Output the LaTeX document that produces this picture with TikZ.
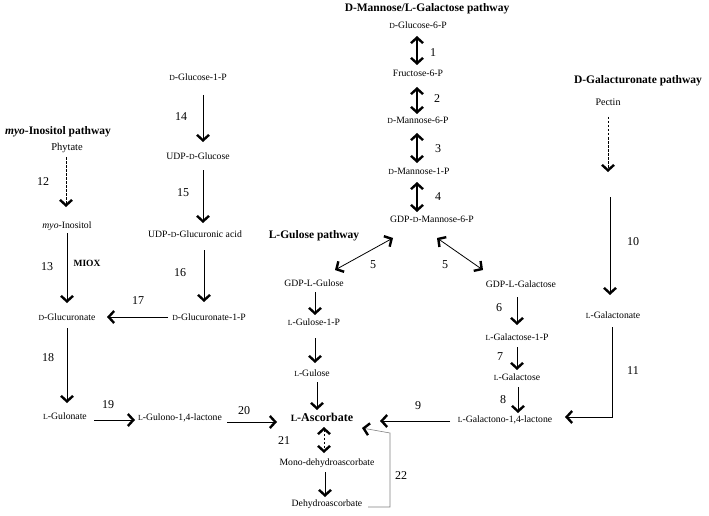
\documentclass[tikz,border=0pt]{standalone}
\usepackage{fontspec}
\usepackage{graphicx}
\setmainfont{Liberation Serif}
\usetikzlibrary{arrows.meta,calc}
\newcommand\smc[1]{\scalebox{0.8}{#1}}
\begin{document}
\begin{tikzpicture}[x=1pt,y=-1pt,
  cmp/.style={font=\fontsize{9.7}{10}\selectfont, inner sep=0pt},
  ttl/.style={font=\fontsize{11.5}{12}\selectfont\bfseries, inner sep=0pt},
  num/.style={font=\fontsize{12}{13}\selectfont, inner sep=0pt},
  barb/.tip={Straight Barb[length=5.5pt,width=12pt,line width=2.4pt]},
  bbarb/.tip={Straight Barb[length=5.5pt,width=12pt,line width=2.4pt,color=black]},
  arr/.style={-barb, line width=0.9pt},
  darr/.style={barb-barb, line width=1.1pt},
  dsh/.style={dash pattern=on 2.5pt off 1.5pt}
]
\useasboundingbox (0,0) rectangle (709,516);

% titles
\node[ttl] (tM) at (427,9) {D-Mannose/L-Galactose pathway};
\node[ttl] (tG) at (314,236) {L-Gulose pathway};
\node[ttl] (tI) at (58,132) {\textit{myo}-Inositol pathway};
\node[ttl] (tD) at (638,81) {D-Galacturonate pathway};

% compounds
\node[cmp] (g6p) at (418,25) {\smc{D}-Glucose-6-P};
\node[cmp] (f6p) at (418,73) {Fructose-6-P};
\node[cmp] (m6p) at (418,120) {\smc{D}-Mannose-6-P};
\node[cmp] (m1p) at (419,171) {\smc{D}-Mannose-1-P};
\node[cmp] (gdpm) at (432,219) {GDP-\smc{D}-Mannose-6-P};
\node[cmp] (gdpgul) at (314,283) {GDP-L-Gulose};
\node[cmp] (gul1p) at (314,322) {\smc{L}-Gulose-1-P};
\node[cmp] (gul) at (312,373) {\smc{L}-Gulose};
\node[inner sep=0pt, font=\fontsize{12}{13}\selectfont\bfseries] (asc) at (322,417) {\smc{L}-Ascorbate};
\node[cmp] (mda) at (327,463) {Mono-dehydroascorbate};
\node[cmp] (dha) at (327,504) {Dehydroascorbate};
\node[cmp] (gdpgal) at (521,284) {GDP-L-Galactose};
\node[cmp] (gal1p) at (517,337) {\smc{L}-Galactose-1-P};
\node[cmp] (gal) at (517,377) {\smc{L}-Galactose};
\node[cmp] (galL) at (505,420) {\smc{L}-Galactono-1,4-lactone};
\node[inner sep=0pt, font=\fontsize{10}{11}\selectfont] (pectin) at (608,102) {Pectin};
\node[cmp] (galact) at (613,315) {\smc{L}-Galactonate};
\node[inner sep=0pt, font=\fontsize{10.5}{11}\selectfont] (phyt) at (67,148) {Phytate};
\node[cmp] (myo) at (67,226) {\textit{myo}-Inositol};
\node[cmp] (glcA) at (67,317) {\smc{D}-Glucuronate};
\node[cmp] (gulon) at (65,416) {\smc{L}-Gulonate};
\node[cmp] (gulL) at (180,418) {\smc{L}-Gulono-1,4-lactone};
\node[cmp] (g1p) at (198,77) {\smc{D}-Glucose-1-P};
\node[cmp] (udpg) at (198,156) {UDP-\smc{D}-Glucose};
\node[cmp] (udpga) at (195,234) {UDP-\smc{D}-Glucuronic acid};
\node[cmp] (glcA1p) at (209,317) {\smc{D}-Glucuronate-1-P};
\node[inner sep=0pt, font=\fontsize{9.5}{10}\selectfont\bfseries] (miox) at (87,263) {MIOX};

% numbers
\node[num] (n1) at (433,53) {1};
\node[num] (n2) at (437,99) {2};
\node[num] (n3) at (438,149) {3};
\node[num] (n4) at (438,197) {4};
\node[num] (n5a) at (373,265) {5};
\node[num] (n5b) at (445,265) {5};
\node[num] (n6) at (499,308) {6};
\node[num] (n7) at (500,357) {7};
\node[num] (n8) at (503,400) {8};
\node[num] (n9) at (418,406) {9};
\node[num] (n10) at (633,242) {10};
\node[num] (n11) at (633,371) {11};
\node[num] (n12) at (43,182) {12};
\node[num] (n13) at (47,267) {13};
\node[num] (n14) at (181,117) {14};
\node[num] (n15) at (183,193) {15};
\node[num] (n16) at (180,273) {16};
\node[num] (n17) at (138,301) {17};
\node[num] (n18) at (48,358) {18};
\node[num] (n19) at (108,405) {19};
\node[num] (n20) at (244,411) {20};
\node[num] (n21) at (284,441) {21};
\node[num] (n22) at (401,476) {22};

\coordinate (pecEnd) at (608,172);
\coordinate (a10s) at (610,197);

% D-Mannose / L-Galactose
\draw[darr] ($(g6p)+(-1,11)$) -- ($(f6p)+(-1,-8)$);
\draw[darr] ($(f6p)+(-1,14)$) -- ($(m6p)+(-1,-6)$);
\draw[darr] ($(m6p)+(-1,13)$) -- ($(m1p)+(-2,-8)$);
\draw[darr] ($(m1p)+(-2,11)$) -- ($(gdpm)+(-15,-7)$);
\draw[barb-barb, line width=0.8pt] ($(gdpm)+(-39,19)$) -- ($(gdpgul)+(21,-13)$);
\draw[barb-barb, line width=0.8pt] ($(gdpm)+(5,19)$) -- ($(gdpgal)+(-38,-14)$);
\draw[arr] ($(gdpgal)+(-4,13)$) -- ($(gal1p)+(0,-12)$);
\draw[arr] ($(gal1p)+(0,10)$) -- ($(gal)+(0,-7)$);
\draw[arr] ($(gal)+(1,10)$) -- ($(galL)+(13,-7)$);
\draw[arr] ($(galL)+(-55,1)$) -- ($(asc)+(58,4)$);

% L-Gulose
\draw[arr] ($(gdpgul)+(1,9)$) -- ($(gul1p)+(1,-7)$);
\draw[arr] ($(gul1p)+(1,16)$) -- ($(gul)+(3,-10)$);
\draw[arr] ($(gul)+(5,9)$) -- ($(asc)+(-5,-7)$);

% ascorbate recycling
\draw[barb-barb, line width=0.8pt, dsh] ($(asc)+(2,10)$) -- ($(mda)+(-3,-10)$);
\draw[arr] ($(mda)+(-2,9)$) -- ($(dha)+(-2,-7)$);
\draw[-bbarb, line width=0.6pt, gray] ($(dha)+(41,3)$) -| ($(asc)+(68,16)$) -- ($(asc)+(40,11)$);

% D-Galacturonate
\draw[arr, dsh, line width=0.7pt] ($(pectin)+(0,15)$) -- (pecEnd);
\draw[arr] (a10s) -- ($(galact)+(-3,-20)$);
\draw[arr] ($(galact)+(-1,12)$) |- ($(galL)+(60,-3)$);

% myo-Inositol
\draw[arr, dsh, line width=0.7pt] ($(phyt)+(-1,9)$) -- ($(myo)+(-1,-19)$);
\draw[arr] ($(myo)+(0,7)$) -- ($(glcA)+(0,-14)$);
\draw[arr] ($(glcA1p)+(-41,0)$) -- ($(glcA)+(40,0)$);
\draw[arr] ($(glcA)+(0,11)$) -- ($(gulon)+(2,-13)$);
\draw[arr] ($(gulon)+(29,4)$) -- ($(gulL)+(-45,2)$);
\draw[arr] ($(gulL)+(47,4)$) -- ($(asc)+(-45,5)$);

% UDP-glucose branch
\draw[arr] ($(g1p)+(5,18)$) -- ($(udpg)+(5,-14)$);
\draw[arr] ($(udpg)+(5,14)$) -- ($(udpga)+(8,-11)$);
\draw[arr] ($(udpga)+(9,16)$) -- ($(glcA1p)+(-5,-15)$);
\end{tikzpicture}
\end{document}
